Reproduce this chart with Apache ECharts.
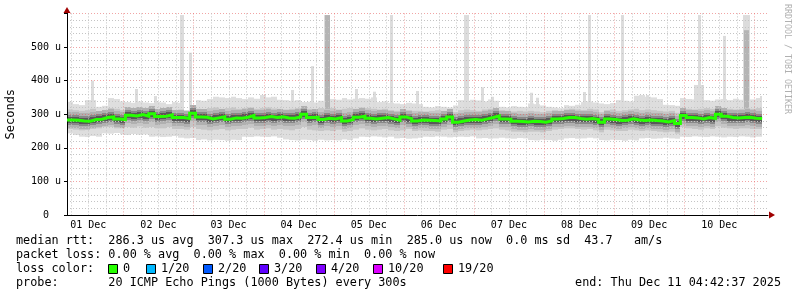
<!DOCTYPE html>
<html><head><meta charset="utf-8">
<script src="https://cdn.jsdelivr.net/npm/echarts@6/dist/echarts.min.js"></script>
<style>html,body{margin:0;padding:0;background:#fff}#c{width:797px;height:297px}</style>
</head><body><div id="c"></div>
<script>
// time axis in hours since 01 Dec 00:00
const START_HOUR = 4.7;
const STEP_HOURS = 2;
const END_HOUR = 244.7;
const Y_MAX = 600;

const median = [283,282,280,279,284,285,290,292,286,284,
 297,295,299,294,301,293,294,298,290,290,
 287,303,292,291,286,289,292,285,289,288,
 291,296,289,290,293,290,292,289,288,292,
 300,290,291,284,288,286,290,280,284,291,
 294,288,286,288,290,286,282,292,287,280,
 283,282,281,280,286,292,276,280,283,284,
 282,286,290,295,286,285,279,278,277,279,
 278,276,280,286,287,290,290,287,285,287,
 284,276,286,284,281,282,286,283,281,283,
 281,280,277,281,272,296,290,289,286,290,
 287,300,294,290,289,290,291,288,287,null];

const maxV = [337,330,327,342,342,322,325,348,345,338,
 336,334,338,335,333,337,335,330,336,334,
 312,312,342,340,345,352,350,348,352,348,
 345,350,346,357,350,352,343,342,340,342,
 336,337,335,340,338,345,343,348,344,346,
 348,346,350,336,338,334,332,330,334,332,
 330,322,320,324,322,320,326,342,340,343,
 341,338,344,340,322,320,324,322,321,332,
 330,326,322,320,318,327,325,328,336,338,
 335,332,330,333,342,340,338,355,357,352,
 350,345,328,327,325,348,345,344,346,342,
 340,344,345,342,346,343,345,344,348,null];

const minV = [243,238,233,232,235,233,243,242,244,240,
 238,241,239,240,233,234,232,233,235,230,
 228,229,223,225,222,224,223,221,224,223,
 233,232,234,233,232,234,230,225,223,222,
 224,223,221,224,222,223,222,225,223,228,
 233,232,234,233,231,233,228,229,227,228,
 230,233,232,234,233,231,232,233,232,234,
 228,229,227,228,230,228,227,229,228,223,
 222,224,223,221,224,228,229,227,228,230,
 228,223,222,224,223,221,224,222,228,229,
 227,228,230,228,227,233,232,234,233,232,
 234,233,231,233,232,234,233,231,233,null];

const p90 = [314,312,310,312,316,308,310,318,316,312,
 318,316,320,317,319,314,316,318,312,314,
 310,318,316,314,318,320,316,318,320,316,
 318,320,316,318,320,317,316,314,316,318,
 320,316,314,318,316,318,314,316,318,316,
 320,318,316,314,316,312,310,314,312,310,
 310,308,310,312,310,312,306,312,314,312,
 310,314,316,318,312,310,308,310,308,310,
 308,306,310,312,310,314,316,314,312,316,
 314,306,312,314,310,312,314,316,312,314,
 312,310,308,310,304,318,316,314,316,318,
 316,322,318,316,314,316,318,316,318,null];

const p10 = [256,254,252,253,256,258,262,262,258,258,
 262,260,264,260,262,258,258,262,256,256,
 254,262,256,254,252,254,256,252,254,256,
 256,260,254,256,258,254,256,254,252,256,
 262,254,252,250,252,250,254,248,250,254,
 258,254,252,254,256,252,250,252,256,250,
 252,250,250,248,254,256,246,250,252,254,
 252,254,256,258,254,252,248,248,246,248,
 248,246,250,254,256,258,258,256,254,256,
 252,246,254,252,250,250,254,252,250,252,
 250,248,246,248,242,262,258,256,254,258,
 256,264,260,258,256,258,258,256,256,null];

// spikes: [fromHour, toHour, topValue]
const SPIKE_BASE = 300;
const spikesLight = [[12.8,13.8,400],[28.1,29.1,375],[34.6,35.6,354],[43.5,44.9,595],[46.6,47.6,483],
 [81.5,82.5,372],[88.3,89.3,443],[92.6,94.8,595],[103.3,104.3,375],[109.5,110.5,367],[115.3,116.3,595],
 [124.2,125.2,369],[140.5,142.5,595],[146.4,147.4,380],[149.8,150.8,352],[163.2,164.2,364],
 [165.2,166.2,349],[181.3,182.3,366],[183.0,184.0,595],[194.3,195.3,595],[202.8,203.8,357],
 [219.3,222.7,387],[220.6,221.6,595],[229.2,230.2,533],[236.2,238.4,595],[241.8,242.8,354]];
const spikesDark = [[93.0,94.6,595],[236.6,238.2,550]];

const dayLabels = ['01 Dec','02 Dec','03 Dec','04 Dec','05 Dec','06 Dec','07 Dec','08 Dec','09 Dec','10 Dec'];
const dayLabelHours = [12,36,60,84,108,132,156,180,204,228];
const majorGridHours = [24,48,72,96,120,144,168,192,216,240];
const minorGridHours = [6,12,18,30,36,42,54,60,66,78,84,90,102,108,114,126,132,138,150,156,162,174,180,186,198,204,210,222,228,234];

const lossColors = ['#26ff00','#00b8ff','#0059ff','#5e00ff','#7e00ff','#dd00ff','#ff0000'];
const lossLabels = ['0','1/20','2/20','3/20','4/20','10/20','19/20'];

const MONO = '"DejaVu Sans Mono", monospace';
const TXT = '11.8px ' + MONO;

function bandData(lo, hi){
  const out = [];
  lo.forEach((v,i)=>{ if(v!=null && hi[i]!=null) out.push([START_HOUR+i*STEP_HOURS, START_HOUR+(i+1)*STEP_HOURS, lo[i], hi[i]]); });
  return out;
}
function medData(){
  const out = [];
  median.forEach((v,i)=>{ if(v!=null) out.push([START_HOUR+i*STEP_HOURS, START_HOUR+(i+1)*STEP_HOURS, v]); });
  return out;
}
function spikeData(list){ return list.map(s=>[s[0], s[1], SPIKE_BASE, s[2]]); }
function rectRender(color){
  return function(params, api){
    const a = api.coord([api.value(0), api.value(3)]);
    const b = api.coord([api.value(1), api.value(2)]);
    const x0 = Math.round(a[0]), x1 = Math.round(b[0]);
    return {type:'rect', shape:{x:x0, y:a[1], width:Math.max(1,x1-x0), height:b[1]-a[1]}, style:{fill:color}};
  };
}
function coreRender(h, color){
  return function(params, api){
    const a = api.coord([api.value(0), api.value(2)]);
    const b = api.coord([api.value(1), api.value(2)]);
    const x0 = Math.round(a[0]), x1 = Math.round(b[0]);
    return {type:'rect', shape:{x:x0, y:Math.round(a[1]-h/2), width:x1-x0, height:h}, style:{fill:color}};
  };
}
function vlineRender(color){
  return function(params, api){
    const t = api.coord([api.value(0), Y_MAX]);
    const b = api.coord([api.value(0), 0]);
    const x = Math.round(t[0]) + 0.5;
    return {type:'line', shape:{x1:x, y1:t[1], x2:x, y2:b[1]}, style:{stroke:color, lineWidth:1, lineDash:[1,2]}};
  };
}
function stepData(arr){
  const out = [];
  arr.forEach((v,i)=>{
    const t = START_HOUR+i*STEP_HOURS;
    if(v==null){ out.push([t,null]); return; }
    out.push([t,v]);
    if(i===arr.length-1 || arr[i+1]==null) out.push([t+STEP_HOURS, v]);
  });
  return out;
}
function rectSeries(data, color, z){
  return {type:'custom', data:data, encode:{x:[0,1], y:[2,3]}, renderItem:rectRender(color), z:z, silent:true, clip:false, animation:false};
}
function coreSeries(h, color, z){
  return {type:'custom', data:medData(), encode:{x:[0,1], y:2}, renderItem:coreRender(h, color), z:z, silent:true, clip:false, animation:false};
}

const graphics = [];
const rowY = [241,255,269,283];
graphics.push({type:'text', x:16, y:rowY[0], style:{text:'median rtt:  286.3 us avg  307.3 us max  272.4 us min  285.0 us now  0.0 ms sd  43.7   am/s', font:TXT, fill:'#000', verticalAlign:'middle'}});
graphics.push({type:'text', x:16, y:rowY[1], style:{text:'packet loss: 0.00 % avg  0.00 % max  0.00 % min  0.00 % now', font:TXT, fill:'#000', verticalAlign:'middle'}});
graphics.push({type:'text', x:16, y:rowY[2], style:{text:'loss color:', font:TXT, fill:'#000', verticalAlign:'middle'}});
const legendX = [108,146,203,259,316,373,443];
lossColors.forEach((c,i)=>{
  graphics.push({type:'rect', shape:{x:legendX[i]+0.5, y:264.5, width:9, height:9}, style:{fill:c, stroke:'#000', lineWidth:1}});
  graphics.push({type:'text', x:legendX[i]+15, y:rowY[2], style:{text:lossLabels[i], font:TXT, fill:'#000', verticalAlign:'middle'}});
});
graphics.push({type:'text', x:16, y:rowY[3], style:{text:'probe:       20 ICMP Echo Pings (1000 Bytes) every 300s', font:TXT, fill:'#000', verticalAlign:'middle'}});
graphics.push({type:'text', x:781, y:rowY[3], style:{text:'end: Thu Dec 11 04:42:37 2025', font:TXT, fill:'#000', align:'right', verticalAlign:'middle'}});
graphics.push({type:'text', x:787, y:4, rotation:-Math.PI/2, style:{text:'RRDTOOL / TOBI OETIKER', font:'8.3px '+MONO, fill:'#b0b0b0', align:'left', verticalAlign:'middle'}});
graphics.push({type:'polygon', shape:{points:[[769,211.5],[775,215],[769,218.5]]}, style:{fill:'#a00000'}});
graphics.push({type:'polygon', shape:{points:[[63.5,13],[67,7],[70.5,13]]}, style:{fill:'#a00000'}});

const option = {
  animation:false,
  backgroundColor:'#ffffff',
  grid:{left:67, right:29, top:13.4, bottom:82, containLabel:false, outerBoundsMode:'none'},
  xAxis:{type:'value', min:START_HOUR, max:END_HOUR, z:3,
    axisLine:{show:true, onZero:false, lineStyle:{color:'#000', width:1}},
    axisTick:{show:false},
    splitLine:{show:false},
    axisLabel:{show:true, customValues:dayLabelHours, formatter:v=>dayLabels[dayLabelHours.indexOf(v)] || '', fontFamily:MONO, fontSize:10, color:'#000', margin:5}
  },
  yAxis:{type:'value', min:0, max:Y_MAX, interval:100, z:3,
    name:'Seconds', nameLocation:'middle', nameGap:50, nameTextStyle:{fontFamily:MONO, fontSize:12, color:'#000'},
    axisLine:{show:true, onZero:false, lineStyle:{color:'#000', width:1}},
    axisTick:{show:true, length:3, lineStyle:{color:'#000'}},
    axisLabel:{formatter:v=> v===0 ? '0  ' : (v>=Y_MAX ? '' : v+' u'), fontFamily:MONO, fontSize:10, color:'#000', margin:6},
    splitLine:{show:true, lineStyle:{color:'rgba(230,90,90,0.55)', width:1, type:[1,2]}},
    minorTick:{show:false, splitNumber:5},
    minorSplitLine:{show:true, lineStyle:{color:'#c4c4c4', width:1, type:[1,2]}}
  },
  graphic:graphics,
  series:[
    rectSeries(bandData(minV, maxV), '#dedede', 1),
    rectSeries(spikeData(spikesLight), '#dcdcdc', 1),
    rectSeries(spikeData(spikesDark), '#b4b4b4', 1),
    rectSeries(bandData(p10, p90), '#c6c6c6', 1),
    coreSeries(16, '#b0b0b0', 2),
    coreSeries(10, '#888888', 2),
    coreSeries(6, '#585858', 2),
    {type:'custom', data:minorGridHours.map(h=>[h,0]), encode:{x:0,y:1}, renderItem:vlineRender('#c4c4c4'), z:3, silent:true, clip:false},
    {type:'custom', data:majorGridHours.map(h=>[h,0]), encode:{x:0,y:1}, renderItem:vlineRender('rgba(230,90,90,0.55)'), z:3, silent:true, clip:false},
    {type:'line', data:stepData(median), step:'end', symbol:'none', connectNulls:false, z:5, silent:true, animation:false,
      lineStyle:{color:'#26ff00', width:3, join:'miter', cap:'butt'}}
  ]
};
const chart = echarts.init(document.getElementById('c'), null, {renderer:'canvas', width:797, height:297});
chart.setOption(option);
</script>
</body></html>
